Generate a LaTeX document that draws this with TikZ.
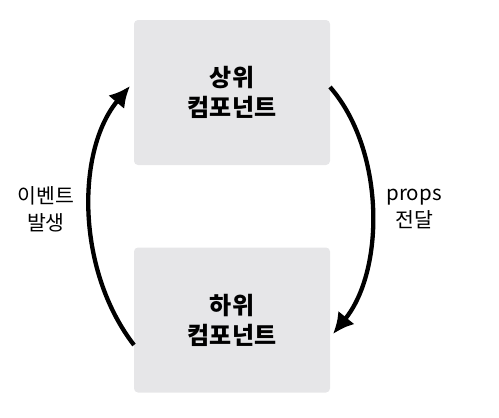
\documentclass[tikz,border=0pt]{standalone}
\usepackage{fontspec}
\setmainfont{Noto Sans CJK KR}
\usetikzlibrary{arrows.meta}
\definecolor{boxgray}{HTML}{E6E6E8}
\begin{document}
\begin{tikzpicture}[x=1pt,y=-1pt,
  comp/.style={fill=boxgray, rounded corners=4pt, minimum width=196pt, minimum height=145pt, inner sep=0pt, align=center, font=\fontsize{24}{30}\selectfont\bfseries},
  lbl/.style={align=center, font=\fontsize{20.5}{27}\selectfont},
  flow/.style={line width=4.3pt, -{Latex[length=21pt,width=21pt]}}]
\useasboundingbox (0,0) rectangle (499,418);
\node[comp] (top) at (232,92.5) {상위\\컴포넌트};
\node[comp] (bot) at (232,320) {하위\\컴포넌트};
\coordinate (ts) at (330,87);
\coordinate (be) at (333,334);
\coordinate (bs) at (134,345);
\coordinate (te) at (130,86);
\draw[flow] (ts) .. controls (385,150) and (385,270) .. (be);
\draw[flow] (bs) .. controls (76,270) and (76,150) .. (te);
\node[lbl] (ev) at (46,209) {이벤트\\발생};
\node[lbl] (pr) at (414,209) {props\\전달};
\end{tikzpicture}
\end{document}
